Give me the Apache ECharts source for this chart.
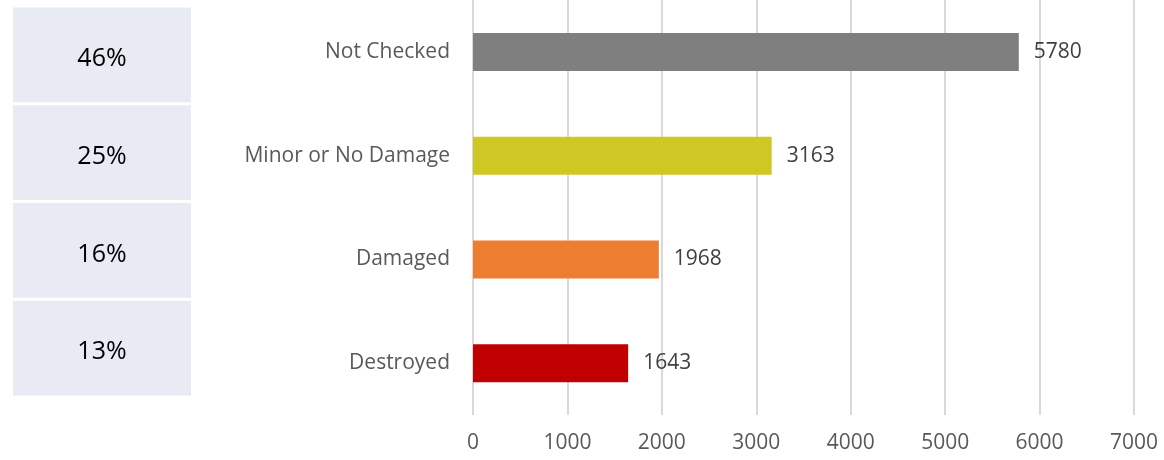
<!DOCTYPE html>
<html>
<head>
<meta charset="utf-8">
<script src="https://cdn.jsdelivr.net/npm/echarts@6/dist/echarts.min.js"></script>
<style>
  html, body { margin: 0; padding: 0; background: #fff; }
  #chart { width: 1164px; height: 460px; }
</style>
</head>
<body>
<div id="chart"></div>
<script>
const categories = ['Not Checked', 'Minor or No Damage', 'Damaged', 'Destroyed']
const counts = [5780, 3163, 1968, 1643]
const shares = ['46%', '25%', '16%', '13%']
const barColors = ['#7f7f7f', '#cfc824', '#ed7d31', '#c00000']
const xTicks = [0, 1000, 2000, 3000, 4000, 5000, 6000, 7000]

const FONT = '"Open Sans", "Liberation Sans", sans-serif'

const chart = echarts.init(document.getElementById('chart'))
chart.setOption({
  animation: false,
  grid: [
    { left: 473, right: 30, top: 0, bottom: 45 },
    { left: 13, width: 178, top: 6, height: 391 }
  ],
  xAxis: [
    {
      gridIndex: 0,
      type: 'value',
      min: xTicks[0],
      max: xTicks[xTicks.length - 1],
      interval: 1000,
      axisLine: { show: false },
      axisTick: { show: false },
      axisLabel: {
        color: '#595959', fontSize: 21, fontFamily: FONT, margin: 18,
        formatter: v => String(v)
      },
      splitLine: { lineStyle: { color: '#d9d9d9', width: 2 } }
    },
    {
      gridIndex: 1,
      type: 'value',
      min: 0,
      max: 1,
      show: false
    }
  ],
  yAxis: [
    {
      gridIndex: 0,
      type: 'category',
      inverse: true,
      data: categories,
      axisLine: { show: false },
      axisTick: { show: false },
      axisLabel: { color: '#595959', fontSize: 21, fontFamily: FONT, margin: 23 }
    },
    {
      gridIndex: 1,
      type: 'category',
      inverse: true,
      data: shares,
      show: false
    }
  ],
  series: [
    {
      type: 'bar',
      xAxisIndex: 0,
      yAxisIndex: 0,
      barWidth: 38,
      data: counts.map((v, i) => ({ value: v, itemStyle: { color: barColors[i] } })),
      label: {
        show: true,
        position: 'right',
        distance: 15,
        color: '#404040',
        fontSize: 21,
        fontFamily: FONT
      }
    },
    {
      type: 'bar',
      xAxisIndex: 1,
      yAxisIndex: 1,
      barCategoryGap: '3%',
      itemStyle: { color: '#e8eaf4' },
      data: shares.map(() => 1),
      label: {
        show: true,
        position: 'inside',
        offset: [0, 4],
        color: '#000',
        fontSize: 25,
        fontFamily: FONT,
        formatter: p => shares[p.dataIndex]
      }
    }
  ]
})
</script>
</body>
</html>
